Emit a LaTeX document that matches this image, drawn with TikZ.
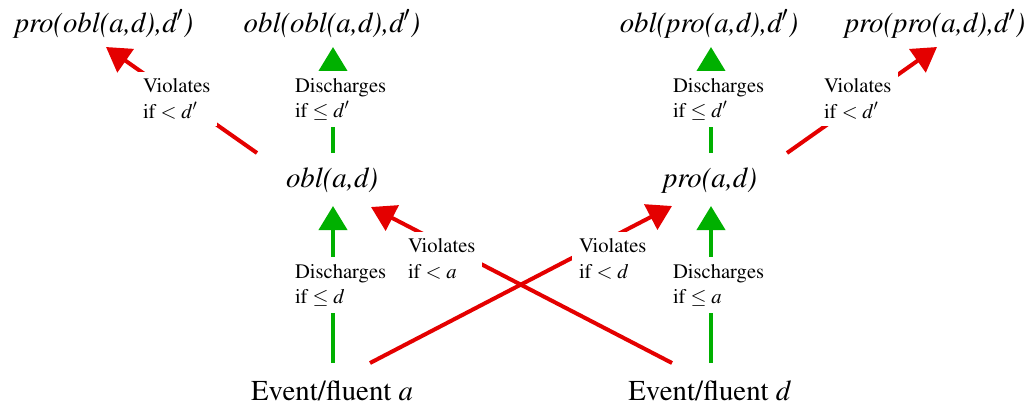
\documentclass[tikz,border=0pt]{standalone}
\usepackage[T1]{fontenc}
\usepackage{mathptmx}
\usetikzlibrary{arrows.meta}
\definecolor{vred}{RGB}{228,0,0}
\definecolor{dgreen}{RGB}{0,176,0}
\begin{document}
\begin{tikzpicture}[x=0.5pt,y=-0.5pt,
  term/.style={font=\fontsize{14.4}{17}\selectfont\itshape, anchor=base, inner sep=0pt},
  ev/.style={font=\fontsize{14.4}{17}\selectfont, anchor=base, inner sep=0pt},
  cond/.style={font=\fontsize{10.3}{12.6}\selectfont, align=left, fill=white, anchor=west, inner sep=3.3pt},
  viol/.style={draw=vred, line width=2pt, -{Triangle[width=14pt,length=12pt]}},
  disc/.style={draw=dgreen, line width=2pt, -{Triangle[width=14pt,length=12pt]}}]
\useasboundingbox (0,0) rectangle (1032,409);
% terms
\node[term] (pod) at (104,32) {pro(obl(a,d),d$'$)};
\node[term] (ood) at (332,32) {obl(obl(a,d),d$'$)};
\node[term] (opd) at (709,32) {obl(pro(a,d),d$'$)};
\node[term] (ppd) at (935,32) {pro(pro(a,d),d$'$)};
\node[term] (oad) at (332,187) {obl(a,d)};
\node[term] (pad) at (710,187) {pro(a,d)};
\node[ev] (ea) at (332,400) {Event/fluent $a$};
\node[ev] (ed) at (710,400) {Event/fluent $d$};
% connector ends
\coordinate (ea-g) at (333,363); \coordinate (ea-r) at (370,363);
\coordinate (ed-g) at (711,363); \coordinate (ed-r) at (672,363);
\coordinate (oad-ing) at (333,206); \coordinate (oad-inr) at (371,207);
\coordinate (pad-ing) at (711,206); \coordinate (pad-inr) at (672,206);
\coordinate (oad-g) at (333,153); \coordinate (oad-r) at (257,153);
\coordinate (pad-g) at (711,153); \coordinate (pad-r) at (787,153);
\coordinate (pod-in) at (106,47); \coordinate (ood-in) at (333,47);
\coordinate (opd-in) at (711,47); \coordinate (ppd-in) at (937,47);
% connectors
\draw[disc] (ea-g) -- (oad-ing);
\draw[disc] (ed-g) -- (pad-ing);
\draw[viol] (ea-r) -- (pad-inr);
\draw[viol] (ed-r) -- (oad-inr);
\draw[disc] (oad-g) -- (ood-in);
\draw[viol] (oad-r) -- (pod-in);
\draw[disc] (pad-g) -- (opd-in);
\draw[viol] (pad-r) -- (ppd-in);
% labels
\node[cond] (l1) at (136,99) {Violates\\if $<d'$};
\node[cond] (l2) at (288,99) {Discharges\\if $\leq d'$};
\node[cond] (l3) at (288,285) {Discharges\\if $\leq d$};
\node[cond] (l4) at (401,259) {Violates\\if $<a$};
\node[cond] (l5) at (572,259) {Violates\\if $<d$};
\node[cond] (l6) at (666,285) {Discharges\\if $\leq a$};
\node[cond] (l7) at (666,99) {Discharges\\if $\leq d'$};
\node[cond] (l8) at (817,99) {Violates\\if $<d'$};
\end{tikzpicture}
\end{document}
